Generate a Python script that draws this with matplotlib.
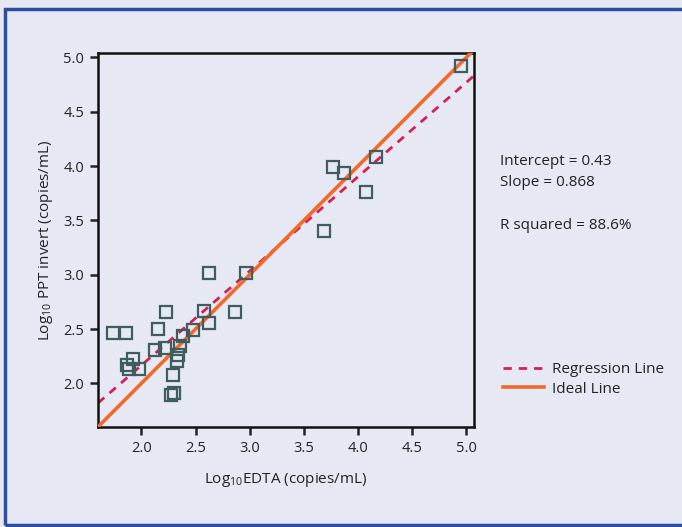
import numpy as np
import matplotlib
matplotlib.use("Agg")
import matplotlib.pyplot as plt
from matplotlib.lines import Line2D
from matplotlib.patches import Rectangle

plt.rcParams['font.family'] = ['Open Sans', 'DejaVu Sans']
plt.rcParams['mathtext.fontset'] = 'custom'
plt.rcParams['mathtext.rm'] = 'Open Sans'
plt.rcParams['mathtext.it'] = 'Open Sans'

# log10 viral load, EDTA vs PPT invert
edta = [2.23, 1.74, 1.86, 2.15, 2.58, 2.86, 2.62, 2.48, 2.38, 2.36, 2.34, 2.33,
        2.13, 2.22, 1.92, 1.87, 1.89, 1.98, 2.29, 2.30, 2.27, 2.62, 2.97,
        3.77, 3.87, 4.17, 4.07, 3.69, 4.95]
ppt = [2.66, 2.46, 2.46, 2.50, 2.67, 2.66, 2.56, 2.49, 2.44, 2.34, 2.26, 2.21,
       2.31, 2.33, 2.22, 2.17, 2.13, 2.13, 2.08, 1.91, 1.89, 3.02, 3.02,
       3.99, 3.94, 4.08, 3.76, 3.40, 4.92]

intercept = 0.43
slope = 0.868
r_squared = 88.6

bg = '#E6E9F4'
ink = '#222222'
x_lim = (1.6, 5.07)
y_lim = (1.6, 5.04)

fig = plt.figure(figsize=(6.82, 5.27), dpi=100, facecolor=bg)
ax = fig.add_axes([0.1437, 0.19, 0.5513, 0.7094], facecolor=bg)

xs = np.array(x_lim)
ax.plot(xs, intercept + slope * xs, color='#D61F52', lw=2, ls=(0, (3, 2.5)), zorder=2)
ax.plot(xs, xs, color='#F26A2B', lw=2.6, zorder=3)
ax.plot(edta, ppt, ls='none', marker='s', ms=8, mfc='none', mec='#3F5C5E', mew=1.6, zorder=4)

ax.set_xlim(*x_lim)
ax.set_ylim(*y_lim)
ax.set_xticks(np.arange(2.0, 5.01, 0.5))
ax.set_yticks(np.arange(2.0, 5.01, 0.5))
ax.xaxis.set_major_formatter(matplotlib.ticker.FormatStrFormatter('%.1f'))
ax.yaxis.set_major_formatter(matplotlib.ticker.FormatStrFormatter('%.1f'))
ax.tick_params(direction='out', length=6, width=1.8, labelsize=10.5, colors=ink, pad=4)
for s in ax.spines.values():
    s.set_linewidth(1.8)
    s.set_color('#111111')

ax.set_xlabel(r'Log$_{10}$EDTA (copies/mL)', fontsize=11, color=ink, labelpad=11)
ax.set_ylabel(r'Log$_{10}$ PPT invert (copies/mL)', fontsize=11, color=ink, labelpad=6)

fig.text(0.733, 0.693, f'Intercept = {intercept}', fontsize=11, color=ink, va='center')
fig.text(0.733, 0.653, f'Slope = {slope}', fontsize=11, color=ink, va='center')
fig.text(0.733, 0.573, f'R squared = {r_squared}%', fontsize=11, color=ink, va='center')

handles = [Line2D([], [], color='#D61F52', lw=2, ls=(0, (3, 2.5))),
           Line2D([], [], color='#F26A2B', lw=2.6)]
fig.legend(handles, ['Regression Line', 'Ideal Line'], loc='center left',
           bbox_to_anchor=(0.717, 0.280), frameon=False, fontsize=11,
           handlelength=2.7, handletextpad=0.55, labelspacing=0.3, labelcolor=ink)

# blue frame round the panel
fig.patches.append(Rectangle((0.008, 0.004), 1.2, 0.979, transform=fig.transFigure,
                             fill=False, ec='#2C4F9E', lw=2.5))

fig.savefig('out.png', dpi=100, facecolor=bg)
